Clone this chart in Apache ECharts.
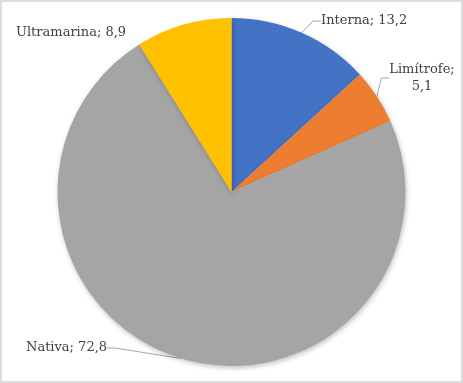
<!DOCTYPE html>
<html>
<head>
<meta charset="utf-8">
<script src="https://cdn.jsdelivr.net/npm/echarts@6/dist/echarts.min.js"></script>
<style>
html,body{margin:0;padding:0;background:#fff;}
#c{width:463px;height:383px;box-sizing:border-box;border:2px solid #dcdcdc;}
</style>
</head>
<body>
<div id="c"></div>
<script>
const categories = ['Interna', 'Limítrofe', 'Nativa', 'Ultramarina'];
const values = [13.2, 5.1, 72.8, 8.9];
const colors = ['#4472C4', '#ED7D31', '#A5A5A5', '#FFC000'];
const labelTexts = ['Interna; 13,2', 'Limítrofe;\n5,1', 'Nativa; 72,8', 'Ultramarina; 8,9'];

// label placement (layout only)
const labelPlace = [
  {x: 319, y: 19, align: 'left'},
  {x: 420, y: 76, align: 'center'},
  {x: 24, y: 346, align: 'left'},
  {x: 14, y: 31, align: 'left'}
];
const showLine = [true, true, true, false];

const chart = echarts.init(document.getElementById('c'), null, {renderer: 'canvas'});
chart.setOption({
  animation: false,
  series: [{
    type: 'pie',
    center: [229.5, 190],
    radius: 174,
    startAngle: 90,
    clockwise: true,
    avoidLabelOverlap: false,
    data: categories.map((name, i) => ({
      name: name,
      value: values[i],
      itemStyle: {color: colors[i]},
      label: {formatter: labelTexts[i]},
      labelLine: {show: showLine[i]}
    })),
    itemStyle: {
      borderWidth: 0,
      shadowColor: 'rgba(0,0,0,0.25)',
      shadowBlur: 5,
      shadowOffsetX: 1,
      shadowOffsetY: 2
    },
    label: {
      show: true,
      position: 'outside',
      fontFamily: 'DejaVu Serif',
      fontSize: 13,
      color: '#404040',
      lineHeight: 17
    },
    labelLine: {
      show: true,
      length: 10,
      length2: 8,
      lineStyle: {color: '#a6a6a6', width: 1}
    },
    labelLayout: function (p) {
      const pl = labelPlace[p.dataIndex];
      return {x: pl.x, y: pl.y, align: pl.align, verticalAlign: 'middle'};
    },
    emphasis: {disabled: true}
  }]
});
</script>
</body>
</html>
